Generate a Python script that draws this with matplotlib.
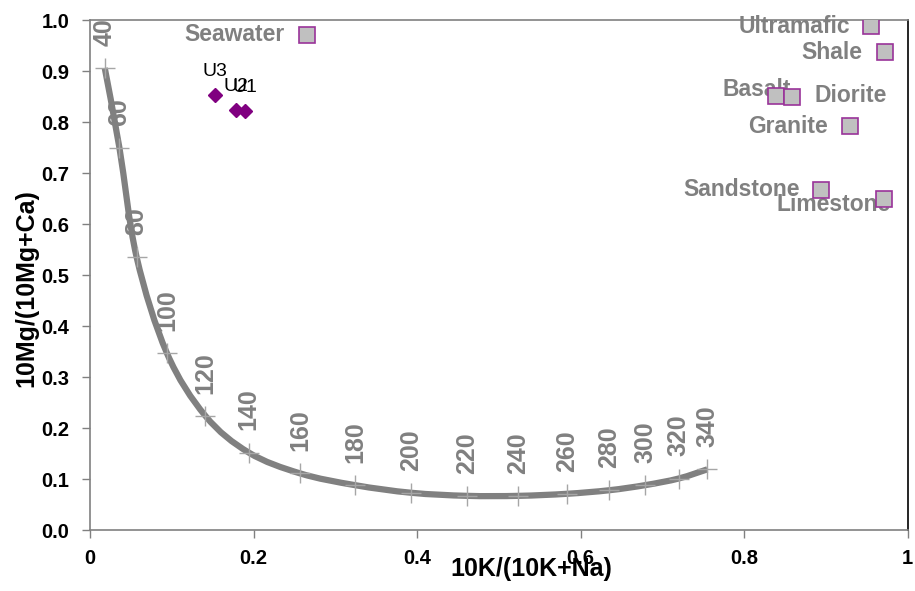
import matplotlib
matplotlib.use("Agg")
import matplotlib.pyplot as plt
from matplotlib.path import Path
from matplotlib.patches import PathPatch

plt.rcParams['font.family'] = ['Liberation Sans', 'DejaVu Sans']

# ---- data ----
curve_temps = [40, 60, 80, 100, 120, 140, 160, 180, 200, 220, 240, 260, 280, 300, 320, 340]
curve_x = [0.018, 0.036, 0.057, 0.094, 0.141, 0.194, 0.257, 0.324, 0.393, 0.461,
           0.524, 0.583, 0.635, 0.679, 0.720, 0.755]
curve_y = [0.906, 0.749, 0.535, 0.347, 0.224, 0.152, 0.111, 0.088, 0.073, 0.067,
           0.067, 0.071, 0.078, 0.088, 0.101, 0.119]

rock_names = ["Seawater", "Ultramafic", "Shale", "Basalt", "Diorite", "Granite",
              "Sandstone", "Limestone"]
rock_x = [0.265, 0.955, 0.972, 0.839, 0.859, 0.929, 0.894, 0.971]
rock_y = [0.971, 0.988, 0.937, 0.851, 0.849, 0.792, 0.667, 0.649]

sample_names = ["U3", "U2", "U1"]
sample_x = [0.153, 0.1785, 0.1895]
sample_y = [0.853, 0.824, 0.822]

x_ticks = [0, 0.2, 0.4, 0.6, 0.8, 1.0]
x_tick_labels = ["0", "0.2", "0.4", "0.6", "0.8", "1"]
y_ticks = [0.0, 0.1, 0.2, 0.3, 0.4, 0.5, 0.6, 0.7, 0.8, 0.9, 1.0]
y_tick_labels = ["0.0", "0.1", "0.2", "0.3", "0.4", "0.5", "0.6", "0.7", "0.8", "0.9", "1.0"]

# ---- layout (label offsets in points, alignment) ----
rock_label_layout = {
    "Seawater": (-16, 0, "right"),
    "Ultramafic": (-15, 0, "right"),
    "Shale": (-16, 0, "right"),
    "Basalt": (11, 5, "right"),
    "Diorite": (16, 1, "left"),
    "Granite": (-16, 0, "right"),
    "Sandstone": (-15, 0, "right"),
    "Limestone": (5, -4, "right"),
}

GRAY = "#808080"

fig = plt.figure(figsize=(9.15, 5.91), dpi=100)
ax = fig.add_axes([0.0984, 0.1032, 0.8936, 0.8628])


def smooth_path(xs, ys):
    """Smoothed line through the points (Catmull-Rom as cubic Bezier segments)."""
    pts = list(zip(xs, ys))
    verts = [pts[0]]
    codes = [Path.MOVETO]
    n = len(pts)
    for i in range(n - 1):
        p0 = pts[i - 1] if i > 0 else pts[i]
        p1 = pts[i]
        p2 = pts[i + 1]
        p3 = pts[i + 2] if i + 2 < n else pts[i + 1]
        c1 = (p1[0] + (p2[0] - p0[0]) / 6.0, p1[1] + (p2[1] - p0[1]) / 6.0)
        c2 = (p2[0] - (p3[0] - p1[0]) / 6.0, p2[1] - (p3[1] - p1[1]) / 6.0)
        verts += [c1, c2, p2]
        codes += [Path.CURVE4, Path.CURVE4, Path.CURVE4]
    return Path(verts, codes)


# temperature curve
ax.add_patch(PathPatch(smooth_path(curve_x, curve_y), facecolor='none',
                       edgecolor=GRAY, lw=4.5, capstyle='butt', zorder=2))
ax.plot(curve_x, curve_y, ls='none', marker='+', ms=15, mew=1.0, color="#A6A6A6", zorder=3)
for t, x, y in zip(curve_temps, curve_x, curve_y):
    ax.annotate(str(t), (x, y), xytext=(0, 16), textcoords='offset points',
                rotation=90, ha='center', va='bottom', fontsize=18,
                fontweight='bold', color=GRAY, annotation_clip=False, zorder=4)

# rocks
ax.plot(rock_x, rock_y, ls='none', marker='s', ms=11, mfc="#C0C0C0",
        mec="#993399", mew=1.2, zorder=5)
for name, x, y in zip(rock_names, rock_x, rock_y):
    dx, dy, ha = rock_label_layout[name]
    ax.annotate(name, (x, y), xytext=(dx, dy), textcoords='offset points',
                ha=ha, va='center', fontsize=16.5, fontweight='bold', color=GRAY,
                annotation_clip=False, zorder=4)

# samples
ax.plot(sample_x, sample_y, ls='none', marker='D', ms=7.5, color="#800080", zorder=6)
for name, x, y in zip(sample_names, sample_x, sample_y):
    ax.annotate(name, (x, y), xytext=(0, 11), textcoords='offset points',
                ha='center', va='bottom', fontsize=14, color='black', zorder=7)

ax.set_xlim(0, 1)
ax.set_ylim(0, 1)
ax.set_xticks(x_ticks)
ax.set_xticklabels(x_tick_labels)
ax.set_yticks(y_ticks)
ax.set_yticklabels(y_tick_labels)
ax.tick_params(axis='both', direction='out', length=6, width=1, color=GRAY,
               labelsize=14.5)
ax.tick_params(axis='y', pad=9)
ax.tick_params(axis='x', pad=8)
for lab in ax.get_xticklabels() + ax.get_yticklabels():
    lab.set_fontweight('bold')

for side in ['left', 'bottom', 'top']:
    ax.spines[side].set_color(GRAY)
    ax.spines[side].set_linewidth(1.2)
ax.spines['right'].set_color('black')
ax.spines['right'].set_linewidth(1.2)

ax.set_xlabel("10K/(10K+Na)", fontsize=18, fontweight='bold')
ax.xaxis.set_label_coords(0.54, -0.052)
ax.set_ylabel("10Mg/(10Mg+Ca)", fontsize=18, fontweight='bold')
ax.yaxis.set_label_coords(-0.063, 0.475)

fig.savefig("out.png", dpi=100)
